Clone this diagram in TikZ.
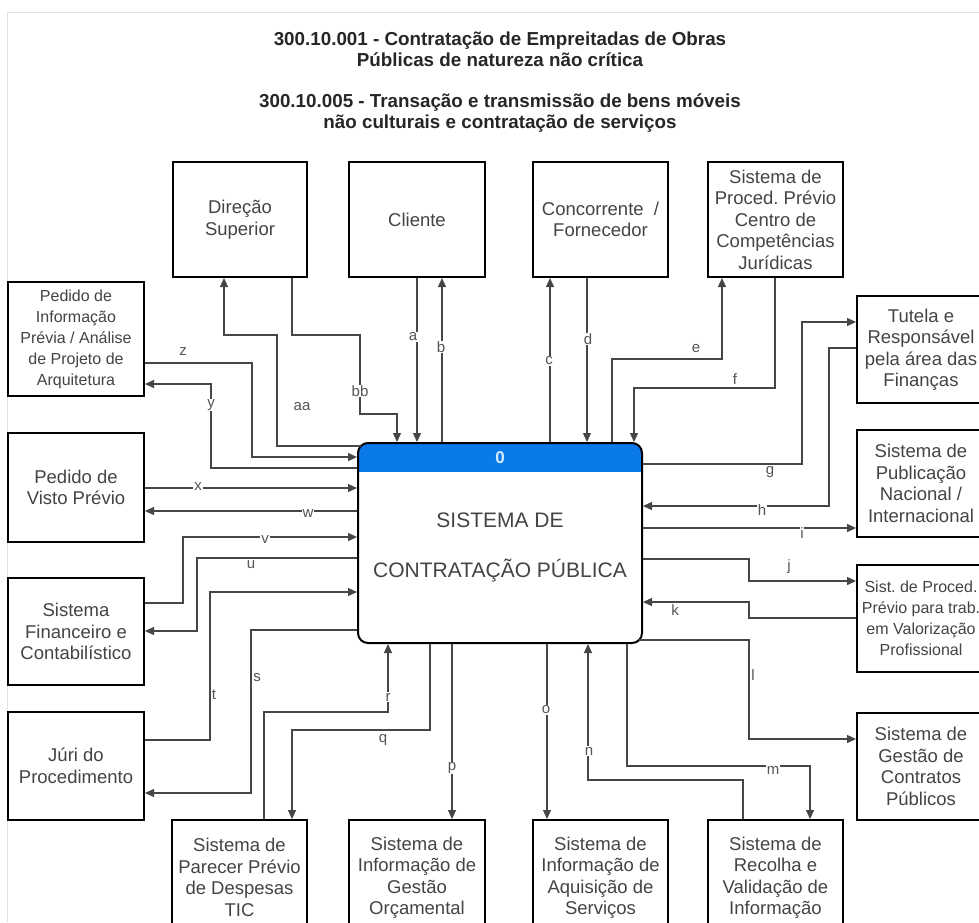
\documentclass[tikz,border=0pt]{standalone}
\usepackage{fontspec}
\setmainfont{Liberation Sans}
\usetikzlibrary{arrows.meta}
\definecolor{hdrblue}{RGB}{10,122,232}
\definecolor{hdrtext}{RGB}{215,235,255}
\definecolor{lc}{RGB}{70,70,70}
\definecolor{tc}{RGB}{68,68,68}
\definecolor{lblc}{RGB}{85,85,85}
\definecolor{framec}{RGB}{225,225,225}
\tikzset{
  ent/.style={draw=black, line width=2pt, fill=white, align=center, inner sep=0pt, text=tc,
    font=\fontsize{18.5}{21.5}\selectfont},
  entsm/.style={ent, font=\fontsize{16}{21}\selectfont},
  topbox/.style={ent, minimum height=115pt},
  sidebox/.style={ent, minimum width=136pt},
  rightbox/.style={ent, minimum width=128pt},
  fl/.style={draw=lc, line width=1.3pt, -{Triangle[length=9pt,width=8pt]}},
  lbl/.style={fill=white, inner sep=0.8pt, text=lblc, font=\fontsize{15}{15}\selectfont},
  ttl/.style={font=\bfseries\fontsize{18.8}{21}\selectfont, text=black!85, align=center},
}
\begin{document}
\frenchspacing
\begin{tikzpicture}[x=1pt,y=-1pt]
\useasboundingbox (0,0) rectangle (979,922);
\clip (0,0) rectangle (979,922);
\draw[framec, line width=1pt] (7.5,922) -- (7.5,12.5) -- (979,12.5);

% titles
\node[ttl] (t1) at (500,49) {300.10.001 - Contratação de Empreitadas de Obras\\Públicas de natureza não crítica};
\node[ttl] (t2) at (500,113) {300.10.005 - Transação e transmissão de bens móveis\\não culturais e contratação de serviços};

% central process
\begin{scope}
  \clip[rounded corners=10pt] (358,443) rectangle (642,643);
  \fill[hdrblue] (358,443) rectangle (642,472);
\end{scope}
\node[draw=black, line width=2pt, rounded corners=10pt, minimum width=284pt, minimum height=200pt, inner sep=0pt] (sys) at (500,543) {};
\node[font=\bfseries\fontsize{17}{17}\selectfont, text=hdrtext] (zero) at (500,458) {0};
\node[font=\fontsize{21}{50}\selectfont, text=tc, align=center] (mt) at (500,547) {SISTEMA DE\\CONTRATAÇÃO PÚBLICA};

% top entities
\node[topbox, minimum width=134pt] (dir) at (240,219.5) {Direção\\Superior};
\node[topbox, minimum width=136pt] (cli) at (417,219.5) {Cliente};
\node[topbox, minimum width=135pt] (con) at (600.5,219.5) {Concorrente~~/\\Fornecedor};
\node[topbox, minimum width=135pt] (ccj) at (775.5,219.5) {Sistema de\\Proced. Prévio\\Centro de\\Competências\\Jurídicas};

% left entities
\node[sidebox, entsm, minimum width=136pt, minimum height=114pt] (pip) at (76,339) {Pedido de\\Informação\\Prévia / Análise\\de Projeto de\\Arquitetura};
\node[sidebox, minimum height=109pt] (visto) at (76,487.5) {Pedido de\\Visto Prévio};
\node[sidebox, minimum height=107pt] (fin) at (76,631.5) {Sistema\\Financeiro e\\Contabilístico};
\node[sidebox, minimum height=108pt] (juri) at (76,766) {Júri do\\Procedimento};

% right entities
\node[rightbox, minimum height=107pt] (tut) at (921,349.5) {Tutela e\\Responsável\\pela área das\\Finanças};
\node[rightbox, minimum height=107pt] (pub) at (921,483.5) {Sistema de\\Publicação\\Nacional /\\Internacional};
\node[rightbox, entsm, minimum width=128pt, minimum height=107pt] (spt) at (921,618.5) {Sist. de Proced.\\Prévio para trab.\\em Valorização\\Profissional};
\node[rightbox, minimum height=107pt] (gco) at (921,766.5) {Sistema de\\Gestão de\\Contratos\\Públicos};

% bottom entities
\node[topbox, minimum width=135pt] (par) at (239.5,877.5) {Sistema de\\Parecer Prévio\\de Despesas\\TIC};
\node[topbox, minimum width=136pt] (orc) at (417,877.5) {Sistema de\\Informação de\\Gestão\\Orçamental};
\node[topbox, minimum width=135pt] (aqs) at (600.5,877.5) {Sistema de\\Informação de\\Aquisição de\\Serviços};
\node[topbox, minimum width=135pt] (rec) at (775.5,877.5) {Sistema de\\Recolha e\\Validação de\\Informação};

% connectors top
\draw[fl] (417,0 |- cli.south) -- (417,0 |- sys.north);
\draw[fl] (442,0 |- sys.north) -- (442,0 |- cli.south);
\draw[fl] (550,0 |- sys.north) -- (550,0 |- con.south);
\draw[fl] (587,0 |- con.south) -- (587,0 |- sys.north);
\draw[fl] (612,0 |- sys.north) |- (722,359) -- (722,0 |- ccj.south);
\draw[fl] (775,0 |- ccj.south) |- (634,388) -- (634,0 |- sys.north);
\draw[fl] (361,446) -| (277,335) -| (224,0 |- dir.south);
\draw[fl] (292,0 |- dir.south) |- (360,335) |- (397,414) -- (397,0 |- sys.north);

% connectors left
\draw[fl] (pip.east |- 0,363) -| (252,457) -- (sys.west |- 0,457);
\draw[fl] (sys.west |- 0,468) -| (211,384) -- (pip.east |- 0,384);
\draw[fl] (visto.east |- 0,488) -- (sys.west |- 0,488);
\draw[fl] (sys.west |- 0,511) -- (visto.east |- 0,511);
\draw[fl] (fin.east |- 0,603) -| (183,537) -- (sys.west |- 0,537);
\draw[fl] (sys.west |- 0,558) -| (197,631) -- (fin.east |- 0,631);
\draw[fl] (juri.east |- 0,740) -| (210,592) -- (sys.west |- 0,592);
\draw[fl] (sys.west |- 0,630) -| (251,793) -- (juri.east |- 0,793);

% connectors bottom
\draw[fl] (264,0 |- par.north) |- (388,712) -- (388,0 |- sys.south);
\draw[fl] (430,0 |- sys.south) |- (292,730) -- (292,0 |- par.north);
\draw[fl] (452,0 |- sys.south) -- (452,0 |- orc.north);
\draw[fl] (547,0 |- sys.south) -- (547,0 |- aqs.north);
\draw[fl] (743,0 |- rec.north) |- (588,780) -- (588,0 |- sys.south);
\draw[fl] (627,0 |- sys.south) |- (810,766) -- (810,0 |- rec.north);

% connectors right
\draw[fl] (639,640) -| (749,739) -- (gco.west |- 0,739);
\draw[fl] (spt.west |- 0,618) -| (749,602) -- (sys.east |- 0,602);
\draw[fl] (sys.east |- 0,559) -| (749,581) -- (spt.west |- 0,581);
\draw[fl] (sys.east |- 0,528) -- (pub.west |- 0,528);
\draw[fl] (tut.west |- 0,348) -| (829,506) -- (sys.east |- 0,506);
\draw[fl] (sys.east |- 0,464) -| (802,322) -- (tut.west |- 0,322);

% labels
\node[lbl] (la) at (413,337) {a};
\node[lbl] (lb) at (441,347) {b};
\node[lbl] (lc) at (549,361) {c};
\node[lbl] (ld) at (588,339) {d};
\node[lbl] (le) at (696,349) {e};
\node[lbl] (lf) at (735,379) {f};
\node[lbl] (lg) at (770,472) {g};
\node[lbl] (lh) at (762,510) {h};
\node[lbl] (li) at (802,533) {i};
\node[lbl] (lj) at (789,567) {j};
\node[lbl] (lk) at (675,610) {k};
\node[lbl] (ll) at (753,675) {l};
\node[lbl] (lm) at (773,770) {m};
\node[lbl] (ln) at (589,751) {n};
\node[lbl] (lo) at (546,710) {o};
\node[lbl] (lp) at (452,768) {p};
\node[lbl] (lq) at (383,740) {q};
\node[lbl] (lr) at (388,697) {r};
\node[lbl] (ls) at (257,678) {s};
\node[lbl] (lt) at (214,695) {t};
\node[lbl] (lu) at (251,565) {u};
\node[lbl] (lv) at (265,540) {v};
\node[lbl] (lw) at (308,514) {w};
\node[lbl] (lx) at (198,487) {x};
\node[lbl] (ly) at (211,405) {y};
\node[lbl] (lz) at (183,352) {z};
\node[lbl] (laa) at (302,407) {aa};
\node[lbl] (lbb) at (360,391) {bb};
\end{tikzpicture}
\end{document}
